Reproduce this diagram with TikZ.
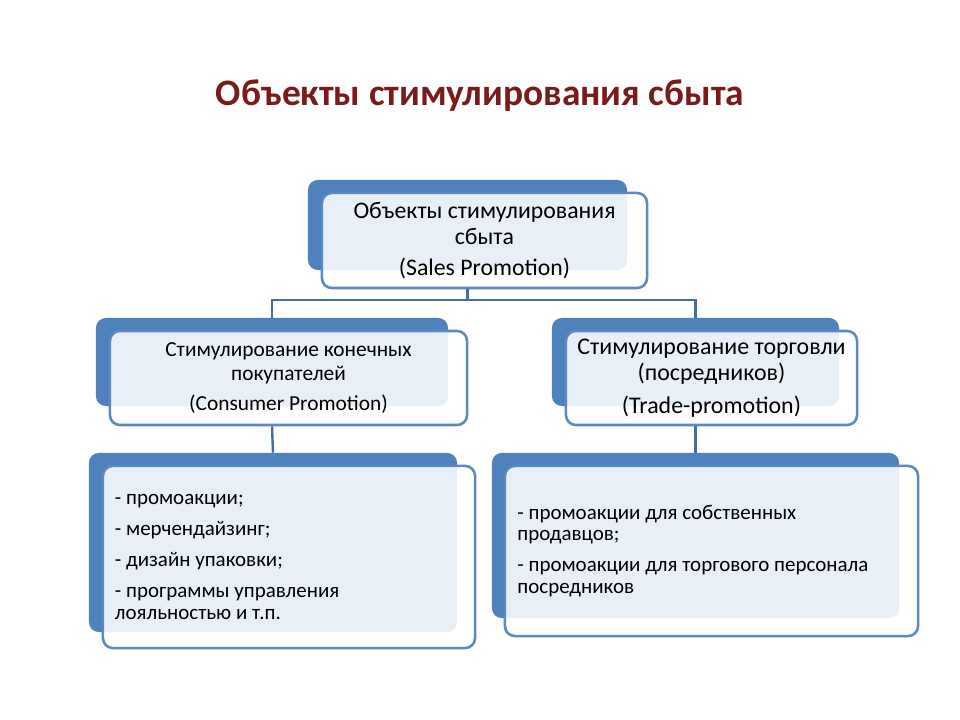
\documentclass[tikz,border=0pt]{standalone}
\usepackage{fontspec}
\setmainfont{Carlito}
\definecolor{boxblue}{HTML}{4F81BD}
\definecolor{edgeblue}{HTML}{5B89C0}
\definecolor{titlered}{HTML}{7A1A1A}
\tikzset{
  back/.style={fill=boxblue, rounded corners=7pt, inner sep=0pt},
  front/.style={draw=edgeblue, line width=1.8pt, fill=white, fill opacity=0.88, text opacity=1, rounded corners=7pt, inner sep=0pt},
  link/.style={draw=boxblue!85!black, line width=1.7pt}
}
\begin{document}
\begin{tikzpicture}[x=0.025cm, y=-0.025cm]
\useasboundingbox (0,0) rectangle (960,720);
\node[titlered, font=\fontsize{26.6}{30}\bfseries] (title) at (480,96) {Объекты стимулирования сбыта};
% boxes behind
\node[back, minimum width=7.975cm, minimum height=2.25cm] (topback) at (467.5,225) {};
\node[back, minimum width=8.8cm, minimum height=2.2cm] (consback) at (272,362) {};
\node[back, minimum width=7.175cm, minimum height=2.2cm] (tradeback) at (695.5,362) {};
\node[back, minimum width=9.2cm, minimum height=4.475cm] (conslistback) at (273,542.5) {};
\node[back, minimum width=10.175cm, minimum height=4.125cm] (tradelistback) at (695.5,535.5) {};
% boxes in front
\node[front, minimum width=8.125cm, minimum height=2.375cm, align=center, font=\fontsize{16.9}{18.5}\selectfont] (top) at (484.5,240.5)
  {Объекты стимулирования\\сбыта\\[4pt](Sales Promotion)};
\node[front, minimum width=8.925cm, minimum height=2.35cm, align=center, font=\fontsize{15.2}{17}\selectfont] (cons) at (288.5,378)
  {Стимулирование конечных\\покупателей\\[4pt](Consumer Promotion)};
\node[front, minimum width=7.275cm, minimum height=2.35cm, align=center, font=\fontsize{17}{18.5}\selectfont] (trade) at (711.5,378)
  {Стимулирование торговли\\(посредников)\\[5pt](Trade-promotion)};
\node[front, minimum width=9.3cm, minimum height=4.55cm, text width=8.7cm, align=flush left, font=\fontsize{14.9}{15.6}\selectfont] (conslist) at (289,557)
  {- промоакции;\\[6.4pt]- мерчендайзинг;\\[6.4pt]- дизайн упаковки;\\[6.4pt]- программы управления\\лояльностью и т.п.};
\node[front, minimum width=10.325cm, minimum height=4.25cm, text width=9.7cm, align=flush left, font=\fontsize{14.9}{15.6}\selectfont] (tradelist) at (711.5,551)
  {- промоакции для собственных\\продавцов;\\[6.4pt]- промоакции для торгового персонала\\посредников};
% connectors
\draw[link] (topback |- top.south) -- ++(0,11) -| (consback.north);
\draw[link] (topback |- top.south) -- ++(0,11) -| (tradeback.north);
\draw[link] (consback |- cons.south) -- (conslistback.north);
\draw[link] (tradeback |- trade.south) -- (tradelistback.north);
\end{tikzpicture}
\end{document}
